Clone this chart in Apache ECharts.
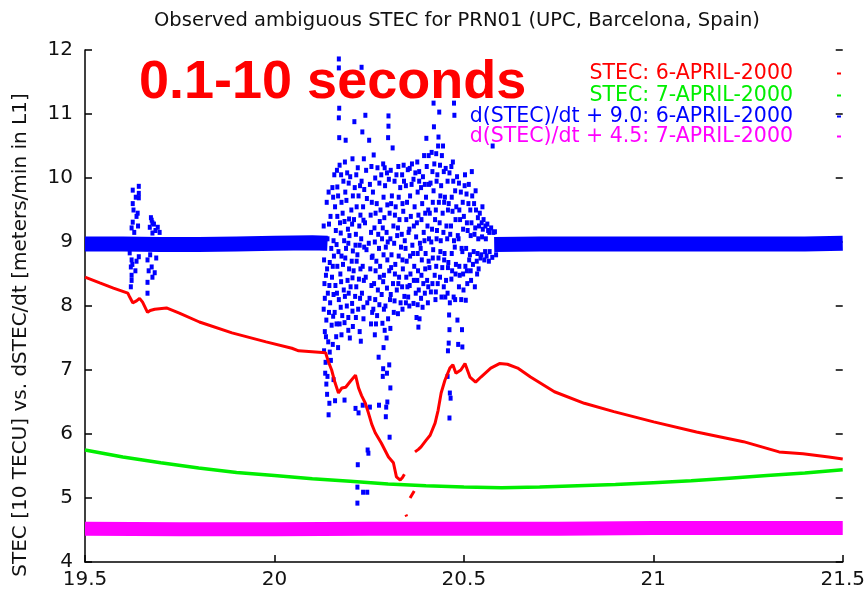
<!DOCTYPE html>
<html>
<head>
<meta charset="utf-8">
<title>Observed ambiguous STEC for PRN01</title>
<script src="https://cdn.jsdelivr.net/npm/echarts@6/dist/echarts.min.js"></script>
<style>
html, body { margin: 0; padding: 0; background: #fff; }
#chart { width: 868px; height: 595px; }
</style>
</head>
<body>
<div id="chart"></div>
<script>
// axis ranges / ticks
var xTicks = [19.5, 20, 20.5, 21, 21.5];
var yTicks = [4, 5, 6, 7, 8, 9, 10, 11, 12];

var seriesNames = [
	'STEC: 6-APRIL-2000',
	'STEC: 7-APRIL-2000',
	'd(STEC)/dt + 9.0: 6-APRIL-2000',
	'd(STEC)/dt + 4.5: 7-APRIL-2000'
];
var seriesColors = ['#ff0000', '#00ee00', '#0000ff', '#ff00ff'];

// STEC 6 April (gaps marked with '-')
var stec6 = [
	[19.5, 8.45], [19.539, 8.36], [19.575, 8.28], [19.613, 8.2], [19.618, 8.14], [19.626, 8.05],
	[19.636, 8.08], [19.644, 8.12], [19.652, 8.06], [19.665, 7.9], [19.672, 7.93], [19.684, 7.95],
	[19.715, 7.97], [19.749, 7.89], [19.802, 7.75], [19.888, 7.58], [19.978, 7.44], [20.046, 7.34],
	[20.064, 7.3], [20.135, 7.27], [20.143, 7.12], [20.151, 7.0], [20.16, 6.8], [20.169, 6.64],
	[20.178, 6.72], [20.188, 6.73], [20.2, 6.82], [20.214, 6.92], [20.219, 6.93], [20.222, 6.72],
	[20.23, 6.6], [20.24, 6.48], [20.248, 6.33], [20.257, 6.15], [20.266, 6.02], [20.282, 5.86],
	[20.301, 5.64], [20.314, 5.55], [20.322, 5.33], [20.332, 5.28], [20.338, 5.32], [20.343, 5.37],
	[20.345, '-'],
	[20.347, 4.74], [20.349, 4.71],
	[20.352, '-'],
	[20.358, 5.0], [20.369, 5.11],
	[20.37, '-'],
	[20.371, 5.72], [20.38, 5.76], [20.387, 5.8], [20.4, 5.9], [20.411, 5.98], [20.424, 6.17],
	[20.432, 6.37], [20.44, 6.64], [20.45, 6.84], [20.463, 7.03], [20.471, 7.08], [20.479, 6.95],
	[20.492, 7.0], [20.503, 7.1], [20.516, 6.89], [20.531, 6.81], [20.545, 6.89], [20.571, 7.03],
	[20.594, 7.1], [20.615, 7.09], [20.642, 7.03], [20.676, 6.89], [20.739, 6.66], [20.818, 6.48],
	[20.896, 6.35], [21.001, 6.19], [21.114, 6.03], [21.238, 5.88], [21.332, 5.72], [21.395, 5.69],
	[21.463, 5.64], [21.5, 5.61]
];

// STEC 7 April
var stec7 = [
	[19.5, 5.75], [19.6, 5.64], [19.7, 5.55], [19.8, 5.47], [19.9, 5.4], [20.0, 5.35], [20.1, 5.3],
	[20.2, 5.26], [20.3, 5.22], [20.4, 5.19], [20.5, 5.17], [20.6, 5.16], [20.7, 5.17], [20.8, 5.19],
	[20.9, 5.21], [21.0, 5.24], [21.1, 5.27], [21.2, 5.31], [21.3, 5.35], [21.4, 5.39], [21.5, 5.44]
];

// d(STEC)/dt + 9.0, 6 April: quiet band
var dstec6Band = [
	[19.5, 8.97], [19.6, 8.97], [19.7, 8.96], [19.8, 8.96], [19.9, 8.97], [20.0, 8.98], [20.1, 8.99],
	[20.14, 8.98], [20.3, '-'],
	[20.58, 8.96], [20.7, 8.97], [20.8, 8.97], [20.9, 8.97], [21.0, 8.97], [21.1, 8.97], [21.2, 8.97],
	[21.3, 8.97], [21.4, 8.97], [21.5, 8.98]
];

// d(STEC)/dt + 9.0, 6 April: scattered points around 19.62-19.70
var dstec6Spikes = [
	[19.618, 8.83], [19.623, 8.72], [19.621, 8.61], [19.623, 8.48], [19.623, 8.4], [19.621, 8.3],
	[19.626, 9.81], [19.642, 9.87], [19.642, 9.76], [19.642, 9.69], [19.626, 9.6], [19.639, 9.45],
	[19.636, 9.4], [19.626, 9.31], [19.623, 9.22], [19.642, 8.77], [19.63, 9.15], [19.636, 8.7],
	[19.628, 9.5], [19.633, 8.55], [19.629, 8.9], [19.64, 9.25], [19.625, 8.65], [19.634, 9.7],
	[19.676, 9.34], [19.678, 9.3], [19.671, 9.23], [19.692, 9.23], [19.678, 9.14], [19.697, 9.15],
	[19.665, 8.72], [19.676, 8.61], [19.678, 8.45], [19.665, 8.37], [19.665, 8.2], [19.684, 8.52],
	[19.672, 8.8], [19.688, 8.75], [19.682, 9.28], [19.668, 8.55], [19.674, 9.38], [19.686, 9.18]
];

// d(STEC)/dt + 9.0, 6 April: main burst 20.13-20.59
var dstec6Burst = [
	[20.13, 9.25], [20.131, 8.72], [20.132, 8.35], [20.13, 7.95], [20.133, 7.6], [20.131, 7.3], [20.134, 6.95],
	[20.138, 9.62], [20.14, 9.05], [20.139, 8.58], [20.141, 8.2], [20.137, 7.78], [20.142, 7.44], [20.14, 6.9],
	[20.139, 6.62], [20.143, 6.3],
	[20.148, 9.4], [20.15, 8.9], [20.152, 8.45], [20.147, 8.05], [20.151, 7.7], [20.149, 7.15], [20.153, 9.85],
	[20.158, 10.05], [20.16, 9.55], [20.162, 9.18], [20.157, 8.78], [20.161, 8.32], [20.159, 7.9], [20.163, 7.52],
	[20.16, 6.52],
	[20.17, 11.86], [20.17, 11.72], [20.171, 11.09], [20.17, 10.94], [20.171, 10.63], [20.172, 10.2],
	[20.168, 9.72], [20.173, 9.3], [20.169, 8.85], [20.174, 8.5], [20.17, 8.1], [20.172, 7.72], [20.168, 7.35],
	[20.182, 9.95], [20.18, 9.45], [20.184, 9.02], [20.181, 8.65], [20.183, 8.25], [20.179, 7.85], [20.185, 6.53],
	[20.192, 10.08], [20.19, 9.65], [20.194, 9.2], [20.189, 8.9], [20.193, 8.4], [20.191, 8.0], [20.195, 7.62],
	[20.188, 10.59],
	[20.2, 10.02], [20.203, 9.5], [20.198, 9.1], [20.204, 8.7], [20.201, 8.3], [20.206, 7.92], [20.199, 7.5],
	[20.212, 9.85], [20.21, 9.35], [20.214, 8.95], [20.209, 8.55], [20.213, 8.15], [20.211, 10.88], [20.214, 6.4],
	[20.22, 10.16], [20.222, 9.72], [20.224, 9.25], [20.219, 8.8], [20.223, 8.42], [20.221, 7.95], [20.225, 7.6],
	[20.222, 6.33], [20.22, 5.52], [20.219, 5.17], [20.219, 4.92],
	[20.232, 10.72], [20.23, 9.95], [20.234, 9.55], [20.229, 9.05], [20.233, 8.62], [20.231, 8.2], [20.235, 7.8],
	[20.233, 6.45], [20.234, 5.09], [20.23, 11.73],
	[20.24, 10.98], [20.242, 10.12], [20.244, 9.68], [20.239, 9.3], [20.243, 8.88], [20.241, 8.45], [20.245, 8.05],
	[20.246, 5.75], [20.248, 5.7], [20.245, 5.09],
	[20.25, 10.59], [20.252, 9.9], [20.254, 9.42], [20.249, 8.98], [20.253, 8.58], [20.251, 8.12], [20.255, 7.72],
	[20.252, 6.42],
	[20.262, 10.36], [20.26, 9.78], [20.264, 9.22], [20.259, 8.78], [20.263, 8.35], [20.261, 7.95], [20.265, 7.55],
	[20.272, 10.16], [20.27, 9.6], [20.274, 9.12], [20.269, 8.7], [20.273, 8.25], [20.271, 7.85], [20.276, 6.45],
	[20.275, 7.2],
	[20.282, 10.05], [20.28, 9.5], [20.284, 9.05], [20.279, 8.62], [20.283, 8.18], [20.285, 7.73], [20.287, 7.02],
	[20.286, 6.9],
	[20.292, 9.88], [20.29, 9.38], [20.294, 8.92], [20.289, 8.48], [20.293, 8.0], [20.291, 7.62], [20.295, 6.42],
	[20.294, 6.27], [20.291, 10.16],
	[20.301, 10.97], [20.301, 10.81], [20.3, 10.63], [20.302, 9.98], [20.304, 9.45], [20.299, 9.0], [20.303, 8.55],
	[20.305, 8.1], [20.3, 7.8], [20.304, 5.95], [20.306, 6.72], [20.303, 7.08],
	[20.312, 10.47], [20.31, 9.72], [20.314, 9.25], [20.309, 8.8], [20.313, 8.35], [20.315, 7.9],
	[20.322, 10.05], [20.32, 9.55], [20.324, 9.1], [20.319, 8.65], [20.323, 8.25], [20.326, 7.88],
	[20.332, 9.85], [20.33, 9.35], [20.334, 8.92], [20.329, 8.45], [20.333, 8.05],
	[20.342, 9.95], [20.34, 9.48], [20.344, 9.02], [20.339, 8.58], [20.343, 8.15], [20.341, 10.2],
	[20.352, 10.13], [20.35, 9.62], [20.354, 9.15], [20.349, 8.7], [20.353, 8.14], [20.351, 8.3],
	[20.362, 9.9], [20.36, 9.4], [20.364, 8.95], [20.359, 8.5], [20.363, 10.22],
	[20.372, 10.08], [20.37, 9.55], [20.374, 9.08], [20.369, 8.62], [20.373, 8.2], [20.375, 7.82],
	[20.382, 9.95], [20.38, 9.42], [20.384, 8.98], [20.379, 8.55], [20.381, 8.25], [20.383, 7.8], [20.38, 7.67],
	[20.382, 10.1],
	[20.392, 10.02], [20.39, 9.6], [20.394, 9.15], [20.389, 8.72], [20.393, 8.35], [20.391, 7.98], [20.395, 10.35],
	[20.402, 10.18], [20.4, 9.7], [20.404, 9.25], [20.399, 8.82], [20.403, 8.4], [20.405, 8.05], [20.401, 10.62],
	[20.412, 9.92], [20.41, 9.45], [20.414, 9.0], [20.409, 8.6], [20.413, 8.22], [20.415, 10.4],
	[20.422, 10.22], [20.42, 9.8], [20.424, 9.35], [20.419, 8.88], [20.423, 8.48], [20.425, 8.1], [20.421, 10.8],
	[20.42, 11.17],
	[20.432, 10.5], [20.43, 10.05], [20.434, 9.62], [20.429, 9.18], [20.433, 8.75], [20.431, 8.35], [20.435, 11.03],
	[20.433, 10.64],
	[20.442, 10.35], [20.44, 9.88], [20.444, 9.45], [20.439, 9.02], [20.443, 8.6], [20.441, 8.14], [20.445, 10.5],
	[20.452, 10.15], [20.45, 9.7], [20.454, 9.25], [20.449, 8.82], [20.453, 8.4], [20.451, 8.14],
	[20.462, 10.08], [20.46, 9.6], [20.464, 9.12], [20.459, 8.68], [20.463, 8.05], [20.461, 7.86], [20.462, 7.63],
	[20.46, 7.42], [20.463, 6.64], [20.465, 6.56], [20.462, 6.25],
	[20.472, 9.95], [20.47, 9.48], [20.474, 9.02], [20.469, 8.55], [20.473, 8.14], [20.471, 10.25], [20.474, 11.17],
	[20.475, 10.98],
	[20.482, 10.02], [20.48, 9.55], [20.484, 9.1], [20.479, 8.65], [20.483, 7.78], [20.485, 7.4],
	[20.492, 9.78], [20.49, 9.35], [20.494, 8.9], [20.489, 8.48], [20.493, 8.1], [20.495, 7.63], [20.496, 7.36],
	[20.502, 9.88], [20.5, 9.4], [20.504, 8.62], [20.499, 8.25], [20.503, 10.05], [20.505, 8.09],
	[20.512, 9.6], [20.51, 9.18], [20.514, 8.72], [20.509, 8.35], [20.513, 9.9],
	[20.522, 9.72], [20.52, 9.3], [20.524, 8.65], [20.519, 8.4], [20.521, 10.1],
	[20.532, 9.5], [20.53, 9.22], [20.534, 8.7], [20.529, 8.3], [20.531, 9.8], [20.535, 8.5],
	[20.542, 9.45], [20.54, 9.25], [20.544, 8.75], [20.539, 8.58],
	[20.552, 9.35], [20.55, 9.2], [20.554, 8.72], [20.549, 9.55],
	[20.562, 9.28], [20.56, 8.78], [20.564, 9.18], [20.566, 8.7],
	[20.572, 9.22], [20.575, 8.76], [20.578, 9.15], [20.576, 10.5],
	[20.582, 9.16], [20.585, 8.8]
];

// more points read from the dense core of the burst
var dstec6BurstCore = [
	[20.134, 9.05], [20.136, 8.48], [20.133, 8.12], [20.136, 7.52], [20.135, 7.12], [20.137, 6.78], [20.132, 8.92],
	[20.144, 9.28], [20.146, 8.68], [20.145, 8.32], [20.144, 7.9], [20.146, 7.28], [20.145, 6.48], [20.143, 9.78],
	[20.155, 9.7], [20.156, 9.02], [20.154, 8.62], [20.156, 8.18], [20.155, 7.84], [20.154, 7.4], [20.156, 6.85],
	[20.165, 10.12], [20.166, 9.4], [20.164, 8.96], [20.166, 8.62], [20.165, 8.2], [20.164, 7.72], [20.166, 9.86],
	[20.176, 10.05], [20.177, 9.62], [20.175, 9.14], [20.177, 8.78], [20.176, 8.38], [20.175, 7.98], [20.177, 7.55],
	[20.186, 10.25], [20.187, 9.78], [20.185, 9.32], [20.187, 8.75], [20.186, 8.15], [20.185, 7.74],
	[20.196, 9.92], [20.197, 9.36], [20.195, 8.98], [20.197, 8.58], [20.196, 8.2], [20.195, 7.82],
	[20.206, 10.3], [20.207, 9.72], [20.205, 9.28], [20.207, 8.86], [20.206, 8.44], [20.205, 8.04], [20.207, 7.68],
	[20.216, 10.05], [20.217, 9.55], [20.215, 9.12], [20.217, 8.7], [20.216, 8.3], [20.215, 7.82],
	[20.226, 9.88], [20.227, 9.42], [20.225, 8.95], [20.227, 8.58], [20.226, 8.12], [20.228, 7.45],
	[20.236, 10.3], [20.237, 9.82], [20.235, 9.34], [20.237, 8.92], [20.236, 8.4], [20.235, 7.98],
	[20.256, 10.18], [20.257, 9.62], [20.255, 9.15], [20.257, 8.76], [20.256, 8.32], [20.258, 7.9],
	[20.266, 10.0], [20.267, 9.45], [20.265, 9.0], [20.267, 8.55], [20.266, 8.1], [20.268, 7.72],
	[20.277, 9.92], [20.278, 9.32], [20.276, 8.9], [20.278, 8.45], [20.277, 8.02],
	[20.287, 10.22], [20.288, 9.7], [20.286, 9.22], [20.288, 8.8], [20.287, 8.38], [20.289, 7.95], [20.288, 7.35],
	[20.297, 10.08], [20.298, 9.58], [20.296, 9.15], [20.298, 8.72], [20.297, 8.28], [20.296, 7.5], [20.297, 6.95],
	[20.298, 6.5],
	[20.307, 10.12], [20.308, 9.6], [20.306, 9.05], [20.308, 8.6], [20.307, 8.18], [20.306, 7.65],
	[20.317, 9.95], [20.318, 9.42], [20.316, 8.98], [20.318, 8.5], [20.317, 8.08],
	[20.327, 10.18], [20.328, 9.7], [20.326, 9.22], [20.328, 8.78], [20.327, 8.35],
	[20.337, 10.05], [20.338, 9.6], [20.336, 9.12], [20.338, 8.72], [20.337, 8.3], [20.338, 7.95],
	[20.347, 9.88], [20.348, 9.35], [20.346, 8.9], [20.348, 8.45], [20.347, 8.05],
	[20.357, 10.15], [20.358, 9.72], [20.356, 9.2], [20.358, 8.78], [20.357, 8.32], [20.356, 8.0],
	[20.367, 9.98], [20.368, 9.25], [20.366, 8.82], [20.368, 8.4], [20.367, 8.04],
	[20.377, 10.25], [20.378, 9.78], [20.376, 9.3], [20.378, 8.82], [20.377, 8.4], [20.378, 8.02],
	[20.387, 9.85], [20.388, 9.35], [20.386, 8.9], [20.388, 8.48], [20.387, 8.12],
	[20.397, 9.9], [20.398, 9.45], [20.396, 9.02], [20.398, 8.58], [20.397, 8.2],
	[20.407, 10.35], [20.408, 9.9], [20.406, 9.5], [20.408, 9.05], [20.407, 8.7], [20.406, 8.3],
	[20.417, 10.1], [20.418, 9.62], [20.416, 9.2], [20.418, 8.75], [20.417, 8.35],
	[20.427, 10.38], [20.428, 9.95], [20.426, 9.5], [20.428, 9.05], [20.427, 8.62], [20.426, 8.22],
	[20.437, 10.2], [20.438, 9.72], [20.436, 9.3], [20.438, 8.85], [20.437, 8.45],
	[20.447, 10.1], [20.448, 9.62], [20.446, 9.15], [20.448, 8.72], [20.447, 8.3],
	[20.457, 9.95], [20.458, 9.5], [20.456, 9.05], [20.458, 8.6], [20.457, 8.2], [20.458, 7.3], [20.457, 6.9],
	[20.467, 10.18], [20.468, 9.7], [20.466, 9.25], [20.468, 8.82], [20.467, 8.42],
	[20.477, 9.8], [20.478, 9.35], [20.476, 8.92], [20.478, 8.5], [20.477, 8.1],
	[20.487, 9.92], [20.488, 9.5], [20.486, 9.05], [20.488, 8.62], [20.487, 8.3],
	[20.497, 9.62], [20.498, 9.2], [20.496, 8.85], [20.498, 8.5],
	[20.507, 9.75], [20.508, 9.3], [20.506, 8.9], [20.508, 8.55],
	[20.517, 9.5], [20.518, 9.1], [20.516, 8.8], [20.518, 8.55],
	[20.527, 9.6], [20.528, 9.12], [20.526, 8.85],
	[20.537, 9.38], [20.538, 9.05], [20.536, 8.82],
	[20.547, 9.3], [20.548, 9.08], [20.546, 8.8],
	[20.557, 9.25], [20.558, 9.05], [20.556, 8.85],
	[20.567, 9.15], [20.568, 8.85]
];

// d(STEC)/dt + 4.5, 7 April: quiet band
var dstec7Band = [
	[19.5, 4.52], [19.75, 4.51], [20.0, 4.51], [20.25, 4.52], [20.5, 4.52], [20.75, 4.52], [21.0, 4.53],
	[21.25, 4.53], [21.5, 4.53]
];

var fontFamily = '"DejaVu Sans", sans-serif';

var myChart = echarts.init(document.getElementById('chart'), null, { renderer: 'canvas' });

function legendFor(i, top) {
	return {
		right: 22,
		top: top,
		orient: 'vertical',
		align: 'right',
		icon: 'rect',
		itemWidth: 4,
		itemHeight: 2,
		selectedMode: false,
		data: [seriesNames[i]],
		textStyle: {
			color: seriesColors[i],
			fontFamily: fontFamily,
			fontSize: 20.5,
			padding: [0, 39, 0, 0]
		}
	};
}

var option = {
	animation: false,
	backgroundColor: '#ffffff',
	title: {
		text: 'Observed ambiguous STEC for PRN01 (UPC, Barcelona, Spain)',
		left: 149,
		top: 6,
		textStyle: {
			color: '#111',
			fontFamily: fontFamily,
			fontWeight: 'normal',
			fontSize: 19.5
		}
	},
	legend: [
		legendFor(0, 58),
		legendFor(1, 80),
		legendFor(2, 101),
		legendFor(3, 121)
	],
	grid: {
		left: 85,
		right: 21,
		top: 50,
		bottom: 33,
		containLabel: false
	},
	xAxis: {
		type: 'value',
		min: xTicks[0],
		max: xTicks[xTicks.length - 1],
		interval: 0.5,
		axisLine: { show: true, onZero: false, lineStyle: { color: '#000', width: 1.5 } },
		axisTick: { show: true, inside: true, length: 7, lineStyle: { color: '#000', width: 1.5 } },
		axisLabel: {
			color: '#111',
			fontFamily: fontFamily,
			fontSize: 20,
			margin: 8
		},
		splitLine: { show: false }
	},
	yAxis: [{
		type: 'value',
		min: yTicks[0],
		max: yTicks[yTicks.length - 1],
		interval: 1,
		name: 'STEC [10 TECU] vs. dSTEC/dt [meters/min in L1]',
		nameLocation: 'middle',
		nameGap: 54,
		nameRotate: 90,
		nameTextStyle: {
			color: '#111',
			fontFamily: fontFamily,
			fontSize: 20,
			padding: [0, 58, 0, 0]
		},
		axisLine: { show: true, onZero: false, lineStyle: { color: '#000', width: 1.5 } },
		axisTick: { show: true, inside: true, length: 7, lineStyle: { color: '#000', width: 1.5 } },
		axisLabel: {
			color: '#111',
			fontFamily: fontFamily,
			fontSize: 20,
			margin: 12
		},
		splitLine: { show: false }
	}, {
		type: 'value',
		position: 'right',
		min: yTicks[0],
		max: yTicks[yTicks.length - 1],
		interval: 1,
		axisLine: { show: false },
		axisTick: { show: true, inside: true, length: 7, lineStyle: { color: '#000', width: 1.5 } },
		axisLabel: { show: false },
		splitLine: { show: false }
	}],
	series: [{
		name: seriesNames[0],
		type: 'line',
		data: stec6,
		showSymbol: false,
		connectNulls: false,
		lineStyle: { color: seriesColors[0], width: 3 },
		itemStyle: { color: seriesColors[0] }
	}, {
		name: seriesNames[1],
		type: 'line',
		data: stec7,
		showSymbol: false,
		lineStyle: { color: seriesColors[1], width: 3.5 },
		itemStyle: { color: seriesColors[1] }
	}, {
		name: seriesNames[2],
		type: 'line',
		data: dstec6Band,
		showSymbol: false,
		connectNulls: false,
		lineStyle: { color: seriesColors[2], width: 15 },
		itemStyle: { color: seriesColors[2] }
	}, {
		name: seriesNames[2],
		type: 'scatter',
		data: dstec6Spikes.concat(dstec6Burst, dstec6BurstCore),
		symbol: 'rect',
		symbolSize: [4, 5],
		large: false,
		itemStyle: { color: seriesColors[2], opacity: 1 }
	}, {
		name: seriesNames[3],
		type: 'line',
		data: dstec7Band,
		showSymbol: false,
		lineStyle: { color: seriesColors[3], width: 14 },
		itemStyle: { color: seriesColors[3] }
	}],
	graphic: [{
		type: 'text',
		left: 139,
		top: 56,
		z: 100,
		style: {
			text: '0.1-10 seconds',
			fill: '#ff0000',
			font: 'bold 54px "Liberation Sans", Arial, sans-serif'
		}
	}]
};

myChart.setOption(option);
</script>
</body>
</html>
